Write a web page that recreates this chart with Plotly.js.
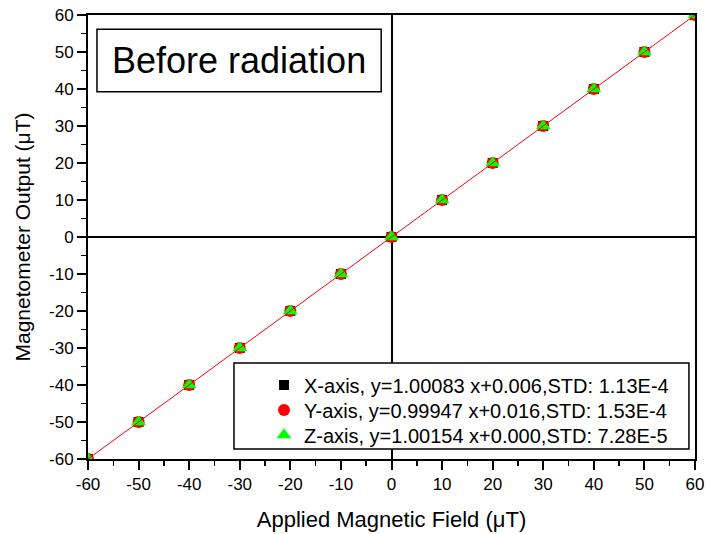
<!DOCTYPE html>
<html><head><meta charset="utf-8">
<script src="https://cdn.plot.ly/plotly-3.0.1.min.js"></script>
<style>html,body{margin:0;padding:0;background:#fff}</style>
</head><body><div id="chart" style="width:706px;height:534px"></div>
<script>
const appliedField = [-60, -50, -40, -30, -20, -10, 0, 10, 20, 30, 40, 50, 60];
const outputX = [-60, -50, -40, -30, -20, -10, 0, 10, 20, 30, 40, 50, 60];
const outputY = [-60, -50, -40, -30, -20, -10, 0, 10, 20, 30, 40, 50, 60];
const outputZ = [-60, -50, -40, -30, -20, -10, 0, 10, 20, 30, 40, 50, 60];
const fitLineX = [-60, 60];
const fitLineY = [-60, 60];
const tickValues = [-60, -50, -40, -30, -20, -10, 0, 10, 20, 30, 40, 50, 60];
const tickLabels = ['-60', '-50', '-40', '-30', '-20', '-10', '0', '10', '20', '30', '40', '50', '60'];
const seriesNames = [
  'X-axis, y=1.00083 x+0.006,STD: 1.13E-4',
  'Y-axis, y=0.99947 x+0.016,STD: 1.53E-4',
  'Z-axis, y=1.00154 x+0.000,STD: 7.28E-5'
];
const panelLabel = 'Before radiation';
const xTitle = 'Applied Magnetic Field (μT)';
const yTitle = 'Magnetometer Output (μT)';

const FONT = 'Liberation Sans, Arial, sans-serif';

const traces = [
  {x: appliedField, y: outputX, name: seriesNames[0], type: 'scatter', mode: 'markers', legend: 'legend',
   marker: {symbol: 'square', size: 10, color: '#000000'}},
  {x: appliedField, y: outputY, name: seriesNames[1], type: 'scatter', mode: 'markers', legend: 'legend2',
   marker: {symbol: 'circle', size: 12, color: '#ff0000'}},
  {x: appliedField, y: outputZ, name: seriesNames[2], type: 'scatter', mode: 'markers', legend: 'legend3',
   marker: {symbol: 'triangle-up', size: 13, color: '#00ff00'}},
  {x: fitLineX, y: fitLineY, type: 'scatter', mode: 'lines', showlegend: false,
   line: {color: '#ff0000', width: 1}}
];

function axisCommon() {
  return {
    range: [-60, 60],
    tickmode: 'array', tickvals: tickValues, ticktext: tickLabels,
    ticks: 'outside', ticklen: 9, tickwidth: 2, tickcolor: '#000',
    minor: {ticks: 'outside', ticklen: 5, tickwidth: 1.5, tickcolor: '#000', dtick: 5, tick0: 0},
    showline: true, linecolor: '#000', linewidth: 2, mirror: true,
    showgrid: false,
    zeroline: true, zerolinecolor: '#000', zerolinewidth: 2,
    tickfont: {family: FONT, size: 17, color: '#000'},
    automargin: false
  };
}

const xaxis = Object.assign(axisCommon(), {
  title: {text: xTitle, font: {family: FONT, size: 22, color: '#000'}, standoff: 18}
});
const yaxis = Object.assign(axisCommon(), {
  title: {text: yTitle, font: {family: FONT, size: 21, color: '#000'}, standoff: 13}
});

function legendAt(yc) {
  return {x: 0.29, y: yc, xanchor: 'left', yanchor: 'middle',
          bgcolor: 'rgba(0,0,0,0)', borderwidth: 0, itemwidth: 30,
          font: {family: FONT, size: 20, color: '#000'}};
}

const layout = {
  width: 706, height: 534,
  margin: {l: 88, r: 11, t: 15, b: 75},
  paper_bgcolor: '#fff', plot_bgcolor: '#fff',
  font: {family: FONT, color: '#000'},
  xaxis: xaxis, yaxis: yaxis,
  showlegend: true,
  legend: legendAt(0.1667),
  legend2: legendAt(0.1104),
  legend3: legendAt(0.0541),
  shapes: [
    {type: 'rect', xref: 'paper', yref: 'paper', x0: 0.2405, x1: 0.990, y0: 0.0225, y1: 0.216,
     line: {color: '#000', width: 1.5}, fillcolor: '#fff', layer: 'above'},
    {type: 'rect', xref: 'paper', yref: 'paper', x0: 0.0148, x1: 0.483, y0: 0.827, y1: 0.968,
     line: {color: '#000', width: 1.5}, fillcolor: '#fff', layer: 'above'}
  ],
  annotations: [
    {text: panelLabel, xref: 'paper', yref: 'paper', x: 0.249, y: 0.8975,
     xanchor: 'center', yanchor: 'middle', showarrow: false,
     font: {family: FONT, size: 36, color: '#000'}}
  ]
};

Plotly.newPlot('chart', traces, layout, {displayModeBar: false, staticPlot: true});
</script>
</body></html>
